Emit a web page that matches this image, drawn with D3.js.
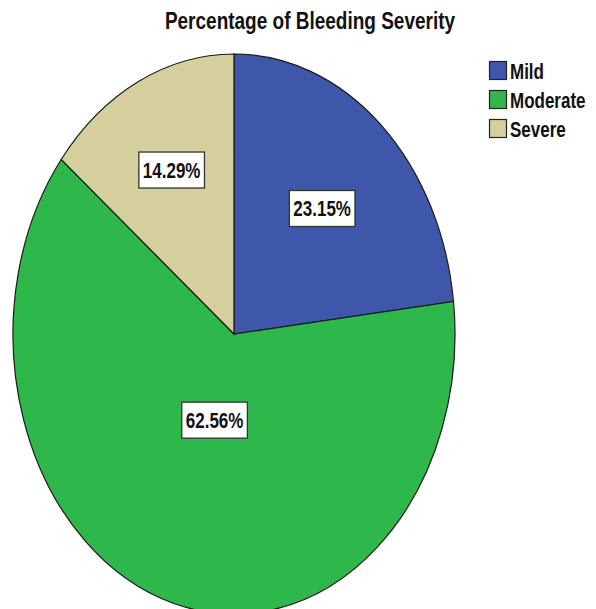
<!DOCTYPE html>
<html>
<head>
<meta charset="utf-8">
<script src="https://cdn.jsdelivr.net/npm/d3@7"></script>
<style>
  html, body { margin: 0; padding: 0; background: #fff; }
  svg { display: block; }
  text { font-family: "Liberation Sans", Arial, sans-serif; font-weight: bold; fill: #111; }
</style>
</head>
<body>
<svg id="chart" width="596" height="609"></svg>
<script>
// Bleeding severity shares (percent)
const categories = ["Mild", "Moderate", "Severe"];
const values = [23.15, 62.56, 14.29];
const colors = ["#3F57AA", "#2EB74A", "#D4CF9C"];
const chartTitle = "Percentage of Bleeding Severity";

const W = 596, H = 609;
const cx = 234, cy = 334;
const rx = 221, ry = 280;          // pie is drawn stretched vertically
const sy = ry / rx;                // vertical stretch applied to pie and text
const labelRadius = [0.6, 0.32, 0.65]; // label distance as a fraction of radius

const svg = d3.select("#chart");

const pie = d3.pie().value(d => d).sort(null);
const arcs = pie(values);
const arc = d3.arc().innerRadius(0).outerRadius(rx);

const g = svg.append("g").attr("transform", `translate(${cx},${cy}) scale(1,${sy})`);

g.selectAll("path.slice")
  .data(arcs)
  .join("path")
  .attr("class", "slice")
  .attr("d", arc)
  .attr("fill", (d, i) => colors[i])
  .attr("stroke", "#1a1a1a")
  .attr("stroke-width", 1.2)
  .attr("vector-effect", "non-scaling-stroke");

// value labels in white boxes
const fmt = v => v.toFixed(2) + "%";
arcs.forEach((a, i) => {
  const mid = (a.startAngle + a.endAngle) / 2;
  const r = rx * labelRadius[i];
  const x = cx + r * Math.sin(mid);
  const y = cy - r * Math.cos(mid) * sy;
  const lg = svg.append("g").attr("transform", `translate(${x},${y})`);
  const box = lg.append("rect");
  const t = lg.append("text")
    .attr("text-anchor", "middle")
    .attr("font-size", 17)
    .attr("transform", `scale(1,${sy})`)
    .attr("y", 6)
    .text(fmt(values[i]));
  const bw = t.node().getComputedTextLength() + 8;
  const bh = 36;
  box.attr("x", -bw / 2).attr("y", -bh / 2).attr("width", bw).attr("height", bh)
    .attr("fill", "#fff").attr("stroke", "#333").attr("stroke-width", 1.3);
});

// title
svg.append("text")
  .attr("text-anchor", "middle")
  .attr("font-size", 19)
  .attr("transform", `translate(310,29) scale(1,${sy})`)
  .text(chartTitle);

// legend
const legend = svg.append("g");
categories.forEach((c, i) => {
  const y0 = 61 + i * 29;
  legend.append("rect")
    .attr("x", 489.5).attr("y", y0 + 0.5)
    .attr("width", 17).attr("height", 18)
    .attr("fill", colors[i])
    .attr("stroke", "#222").attr("stroke-width", 1.2);
  legend.append("text")
    .attr("font-size", 17)
    .attr("transform", `translate(510,${y0 + 18}) scale(1,${sy})`)
    .text(c);
});
</script>
</body>
</html>
